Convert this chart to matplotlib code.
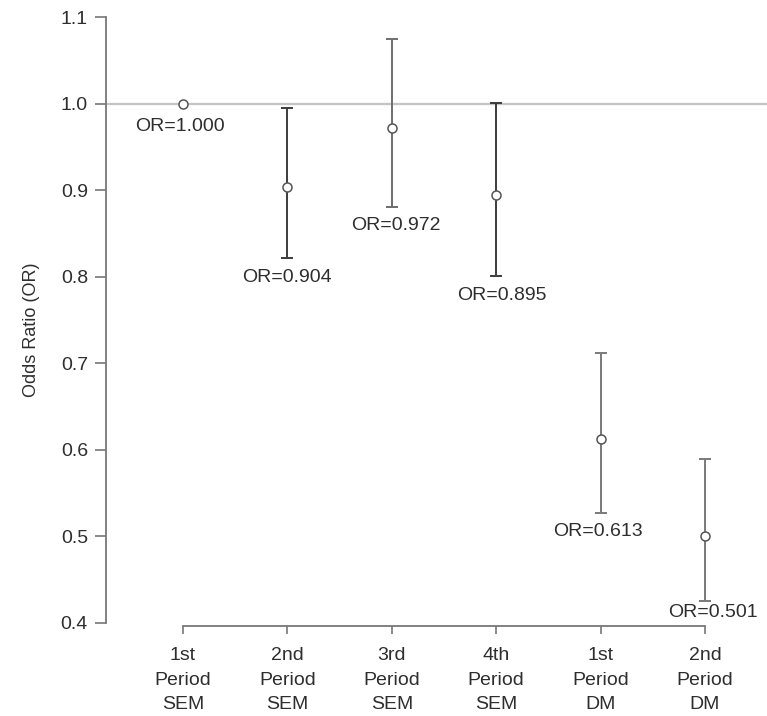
import matplotlib
matplotlib.use("Agg")
import matplotlib.pyplot as plt

categories = ["1st\nPeriod\nSEM", "2nd\nPeriod\nSEM", "3rd\nPeriod\nSEM",
              "4th\nPeriod\nSEM", "1st\nPeriod\nDM", "2nd\nPeriod\nDM"]
odds_ratio = [1.000, 0.904, 0.972, 0.895, 0.613, 0.501]
ci_lower = [1.000, 0.822, 0.881, 0.801, 0.527, 0.425]
ci_upper = [1.000, 0.995, 1.075, 1.001, 0.712, 0.590]
labels = ["OR=1.000", "OR=0.904", "OR=0.972", "OR=0.895", "OR=0.613", "OR=0.501"]
y_ticks = [0.4, 0.5, 0.6, 0.7, 0.8, 0.9, 1.0, 1.1]

plt.rcParams['font.family'] = ['Liberation Sans', 'DejaVu Sans']

W, H = 767, 716
fig = plt.figure(figsize=(W / 100, H / 100), dpi=100)
ax_left, ax_bottom_px = 106, 626
ax = fig.add_axes([ax_left / W, (H - ax_bottom_px) / H, (W - ax_left) / W, ax_bottom_px / H])

xs = list(range(1, len(categories) + 1))
ax.set_xlim(0.262, 6.594)
ax.set_ylim(0.3965, 1.1202)

# reference line at 1.0
ax.axhline(1.0, color='#c4c4c4', lw=1.6, zorder=1)

bar_colors = ['#666666', '#3c3c3c', '#6e6e6e', '#3c3c3c', '#7a7a7a', '#7a7a7a']
for x, o, lo, hi, c in zip(xs, odds_ratio, ci_lower, ci_upper, bar_colors):
    if hi > lo:
        ax.errorbar([x], [o], yerr=[[o - lo], [hi - o]], fmt='none',
                    ecolor=c, elinewidth=1.4, capsize=4.5, capthick=1.4, zorder=2)
    ax.plot([x], [o], marker='o', ms=6.5, mfc='white', mec='#555555', mew=1.1,
            ls='none', zorder=3)

label_offsets = [(-3, -23), (0, -20), (4, -19), (6, -19), (-3, -18), (8, -11)]
for x, lo, t, (dx, dy) in zip(xs, ci_lower, labels, label_offsets):
    ax.annotate(t, (x, lo), xytext=(dx, dy), textcoords='offset pixels',
                ha='center', va='center', fontsize=14, color='#2e2e2e')

ax.spines['top'].set_visible(False)
ax.spines['right'].set_visible(False)
for s in ('left', 'bottom'):
    ax.spines[s].set_color('#777777')
    ax.spines[s].set_linewidth(1.3)
ax.spines['left'].set_bounds(0.4, 1.1)
ax.spines['bottom'].set_bounds(1, 6)

ax.set_yticks(y_ticks)
ax.set_yticklabels([f"{v:.1f}" for v in y_ticks])
ax.set_xticks(xs)
ax.set_xticklabels(categories, linespacing=1.6)
ax.tick_params(axis='y', length=8, width=1.2, color='#777777', pad=5,
               labelsize=14, labelcolor='#2e2e2e')
ax.tick_params(axis='x', length=6, width=1.2, color='#777777', pad=9,
               labelsize=14, labelcolor='#2e2e2e')

fig.text(32 / W, 1 - 330 / H, "Odds Ratio (OR)", rotation=90, ha='center', va='center',
         fontsize=13, color='#2e2e2e')

fig.savefig("out.png", dpi=100, facecolor='white')
